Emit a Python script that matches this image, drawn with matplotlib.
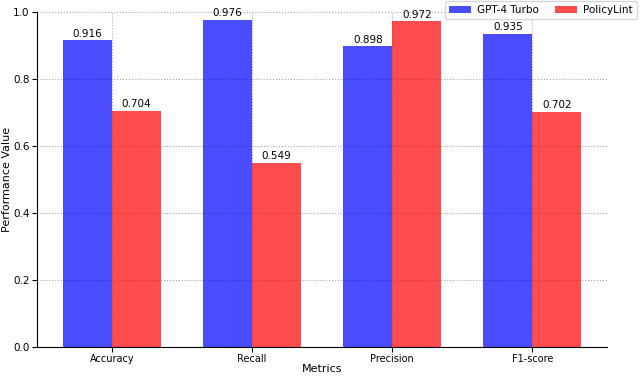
import numpy as np
import matplotlib
matplotlib.use('Agg')
import matplotlib.pyplot as plt

metrics = ["Accuracy", "Recall", "Precision", "F1-score"]
gpt4_turbo = [0.916, 0.976, 0.898, 0.935]
policylint = [0.704, 0.549, 0.972, 0.702]

x = np.arange(len(metrics))
w = 0.35

fig, ax = plt.subplots(figsize=(6.4, 3.77), dpi=100)
fig.subplots_adjust(left=0.058, right=0.949, top=0.968, bottom=0.08)

b1 = ax.bar(x - w / 2, gpt4_turbo, w, color="blue", alpha=0.7, label="GPT-4 Turbo")
b2 = ax.bar(x + w / 2, policylint, w, color="red", alpha=0.7, label="PolicyLint")

for bars in (b1, b2):
    for b in bars:
        ax.text(b.get_x() + b.get_width() / 2, b.get_height() + 0.005,
                "{:.3f}".format(b.get_height()), ha="center", va="bottom", fontsize=7.5)

ax.set_ylim(0, 1.0)
ax.set_xticks(x)
ax.set_xticklabels(metrics, fontsize=7)
ax.tick_params(axis="y", labelsize=7.5, pad=2)
ax.tick_params(axis="x", pad=2)
ax.set_xlabel("Metrics", fontsize=8, labelpad=0)
ax.set_ylabel("Performance Value", fontsize=8, labelpad=1)
ax.grid(True, linestyle=":", color="grey", alpha=0.7, linewidth=0.8)
ax.set_axisbelow(True)
ax.spines["top"].set_visible(False)
ax.spines["right"].set_visible(False)
ax.legend(loc="upper right", bbox_to_anchor=(1.055, 1.04), ncol=2, fontsize=7.5,
          handlelength=2.1, columnspacing=1.5, handletextpad=0.6, borderaxespad=0.2)

fig.savefig("out.png")
